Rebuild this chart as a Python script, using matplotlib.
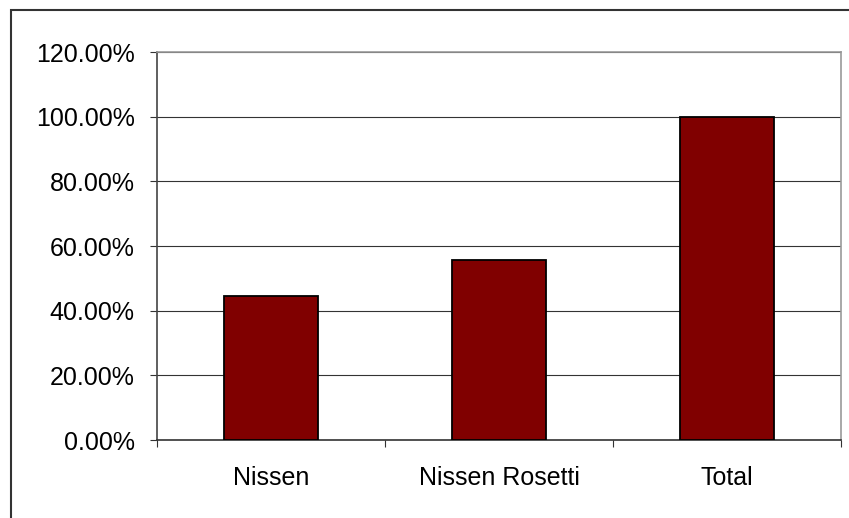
import matplotlib.pyplot as plt
from matplotlib.patches import Rectangle
from matplotlib.ticker import FuncFormatter, FixedLocator

categories = ["Nissen", "Nissen Rosetti", "Total"]
values = [44.44, 55.56, 100.0]
y_ticks = [0, 20, 40, 60, 80, 100, 120]

plt.rcParams['font.family'] = ['Liberation Sans', 'DejaVu Sans']

fig = plt.figure(figsize=(8.49, 5.18), dpi=100)
fig.patch.set_facecolor('white')

# outer chart border (runs off the right and bottom edges)
fig.patches.append(Rectangle((11 / 849, -0.05), 1.0, 1 - 10 / 518 + 0.05,
                             transform=fig.transFigure, fill=False,
                             edgecolor='#333333', linewidth=1.5))

ax = fig.add_axes([157 / 849, 78 / 518, 684 / 849, 388 / 518])
x = range(len(categories))
ax.bar(x, values, width=0.41, color='#800000', edgecolor='black',
       linewidth=1.3, zorder=3)

ax.set_xlim(-0.5, len(categories) - 0.5)
ax.set_ylim(0, 120)
ax.set_yticks(y_ticks)
ax.yaxis.set_major_formatter(FuncFormatter(lambda v, p: f"{v:.2f}%"))
ax.yaxis.grid(True, color='#333333', linewidth=0.8, zorder=0)
ax.tick_params(axis='y', direction='out', length=5, width=0.8,
               color='#333333', pad=11, labelsize=18)

# x ticks sit between categories, labels in the middle
ax.xaxis.set_major_locator(FixedLocator([-0.5, 0.5, 1.5, 2.5]))
ax.xaxis.set_minor_locator(FixedLocator(list(x)))
ax.set_xticklabels([], minor=False)
ax.set_xticklabels(categories, minor=True)
ax.tick_params(axis='x', which='major', direction='out', length=5,
               width=0.8, color='#333333')
ax.tick_params(axis='x', which='minor', length=0, pad=19, labelsize=18)

ax.spines['left'].set_color('#444444')
ax.spines['bottom'].set_color('#333333')
ax.spines['top'].set_color('#999999')
ax.spines['right'].set_color('#999999')
for s in ax.spines.values():
    s.set_linewidth(1.2)

fig.savefig('out.png', dpi=100)
